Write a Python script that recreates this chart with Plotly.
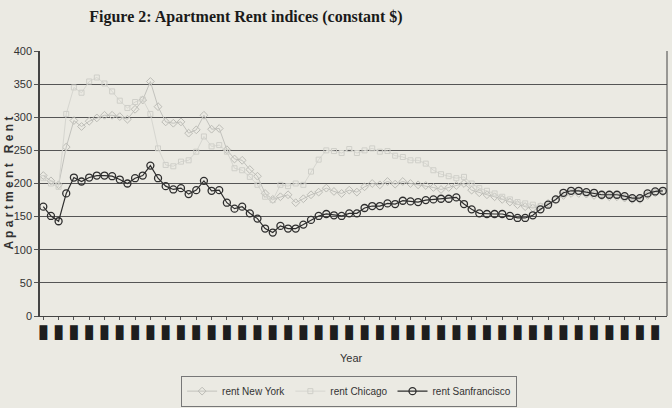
import plotly.graph_objects as go

# half-year observation index (82 points), tick labels are unreadable black blocks
idx = list(range(82))
tick_vals = list(range(0, 82, 2))
tick_text = ["█"] * len(tick_vals)

rent_new_york = [212, 204, 198, 255, 295, 286, 294, 299, 303, 303,
                 301, 297, 312, 326, 354, 316, 293, 291, 293, 276,
                 281, 303, 282, 283, 251, 237, 235, 221, 211, 185,
                 176, 180, 183, 171, 177, 183, 187, 193, 188, 185,
                 190, 187, 195, 200, 198, 203, 199, 203, 200, 198,
                 197, 194, 191, 194, 197, 200, 190, 186, 183, 180,
                 176, 172, 168, 165, 163, 165, 170, 176, 182, 185,
                 185, 184, 182, 181, 180, 180, 178, 176, 176, 182,
                 186, 187]

rent_chicago = [208, 200, 195, 305, 345, 337, 354, 360, 351, 339,
                325, 314, 323, 327, 305, 253, 228, 226, 233, 235,
                248, 271, 256, 258, 248, 223, 220, 210, 198, 180,
                175, 198, 196, 200, 198, 218, 236, 250, 249, 246,
                252, 246, 250, 253, 248, 249, 242, 240, 235, 235,
                230, 220, 214, 211, 208, 210, 200, 193, 189, 185,
                180, 176, 172, 170, 168, 166, 168, 175, 183, 187,
                188, 186, 185, 183, 182, 182, 180, 178, 177, 183,
                187, 188]

rent_sanfrancisco = [165, 151, 143, 185, 209, 203, 209, 212, 212, 211,
                     206, 200, 208, 212, 227, 208, 196, 191, 193, 184,
                     190, 204, 189, 190, 171, 162, 165, 155, 147, 132,
                     126, 136, 132, 132, 138, 145, 151, 154, 152, 151,
                     155, 155, 163, 166, 166, 170, 169, 174, 173, 172,
                     175, 176, 177, 177, 179, 169, 161, 155, 154, 154,
                     154, 151, 148, 148, 152, 161, 168, 176, 186, 189,
                     189, 187, 186, 183, 183, 183, 181, 178, 178, 185,
                     188, 189]

BG = "#ebeae3"

fig = go.Figure()
fig.add_trace(go.Scatter(
    x=idx, y=rent_new_york, name="rent New York", mode="lines+markers",
    line=dict(color="#c2c2bd", width=1),
    marker=dict(symbol="diamond-open", size=6, color="#bcbcb6", line=dict(width=1)),
))
fig.add_trace(go.Scatter(
    x=idx, y=rent_chicago, name="rent Chicago", mode="lines+markers",
    line=dict(color="#d6d6d0", width=1),
    marker=dict(symbol="square-open", size=5, color="#cfcfc9", line=dict(width=1)),
))
fig.add_trace(go.Scatter(
    x=idx, y=rent_sanfrancisco, name="rent Sanfrancisco", mode="lines+markers",
    line=dict(color="#2e2e2e", width=1.2),
    marker=dict(symbol="circle-open", size=7, color="#2e2e2e", line=dict(width=1.3)),
))

fig.update_layout(
    width=672, height=408,
    margin=dict(l=40, r=5, t=51, b=92, autoexpand=False),
    paper_bgcolor=BG, plot_bgcolor=BG,
    font=dict(family="Liberation Sans, Arial, sans-serif", size=11, color="#333333"),
    title=dict(text="<b>Figure 2: Apartment Rent indices (constant $)</b>",
               font=dict(family="Liberation Serif, Times New Roman, serif", size=16, color="#1a1a1a"),
               x=0.366, xanchor="center", y=0.96, yanchor="middle"),
    showlegend=True,
    legend=dict(orientation="h", x=0.493, xanchor="center", y=-0.225, yanchor="top",
                bgcolor=BG, bordercolor="#777777", borderwidth=1,
                font=dict(size=10, color="#333333"), itemwidth=30,
                tracegroupgap=0),
    xaxis=dict(range=[-0.43, 81.54], tickmode="array", tickvals=tick_vals, ticktext=tick_text,
               tickfont=dict(family="Liberation Mono, DejaVu Sans Mono", size=13, color="#1e1e1e"),
               showgrid=False, zeroline=False, showline=True, linecolor="#444444", linewidth=1,
               ticks="outside", ticklen=3, tickcolor="#555555", mirror=False, automargin=False),
    yaxis=dict(range=[0, 400], tickvals=[0, 50, 100, 150, 200, 250, 300, 350, 400],
               showgrid=True, gridcolor="#555555", gridwidth=1, zeroline=False,
               showline=True, linecolor="#444444", linewidth=1.5,
               ticks="outside", ticklen=4, tickcolor="#555555", automargin=False,
               tickfont=dict(size=11, color="#333333")),
    annotations=[
        dict(text="Year", x=0.497, y=-0.158, xref="paper", yref="paper",
             showarrow=False, font=dict(size=11, color="#333333"), yanchor="middle"),
        dict(text="<b>A p a r t m e n t   R e n t</b>", x=-0.051, y=0.5, xref="paper", yref="paper",
             showarrow=False, textangle=-90, font=dict(size=12, color="#333333"),
             xanchor="center", yanchor="middle"),
    ],
    shapes=[
        dict(type="line", xref="paper", yref="paper", x0=1, x1=1, y0=0, y1=1,
             line=dict(color="#444444", width=1)),
    ],
)

fig.write_html("out.html")
